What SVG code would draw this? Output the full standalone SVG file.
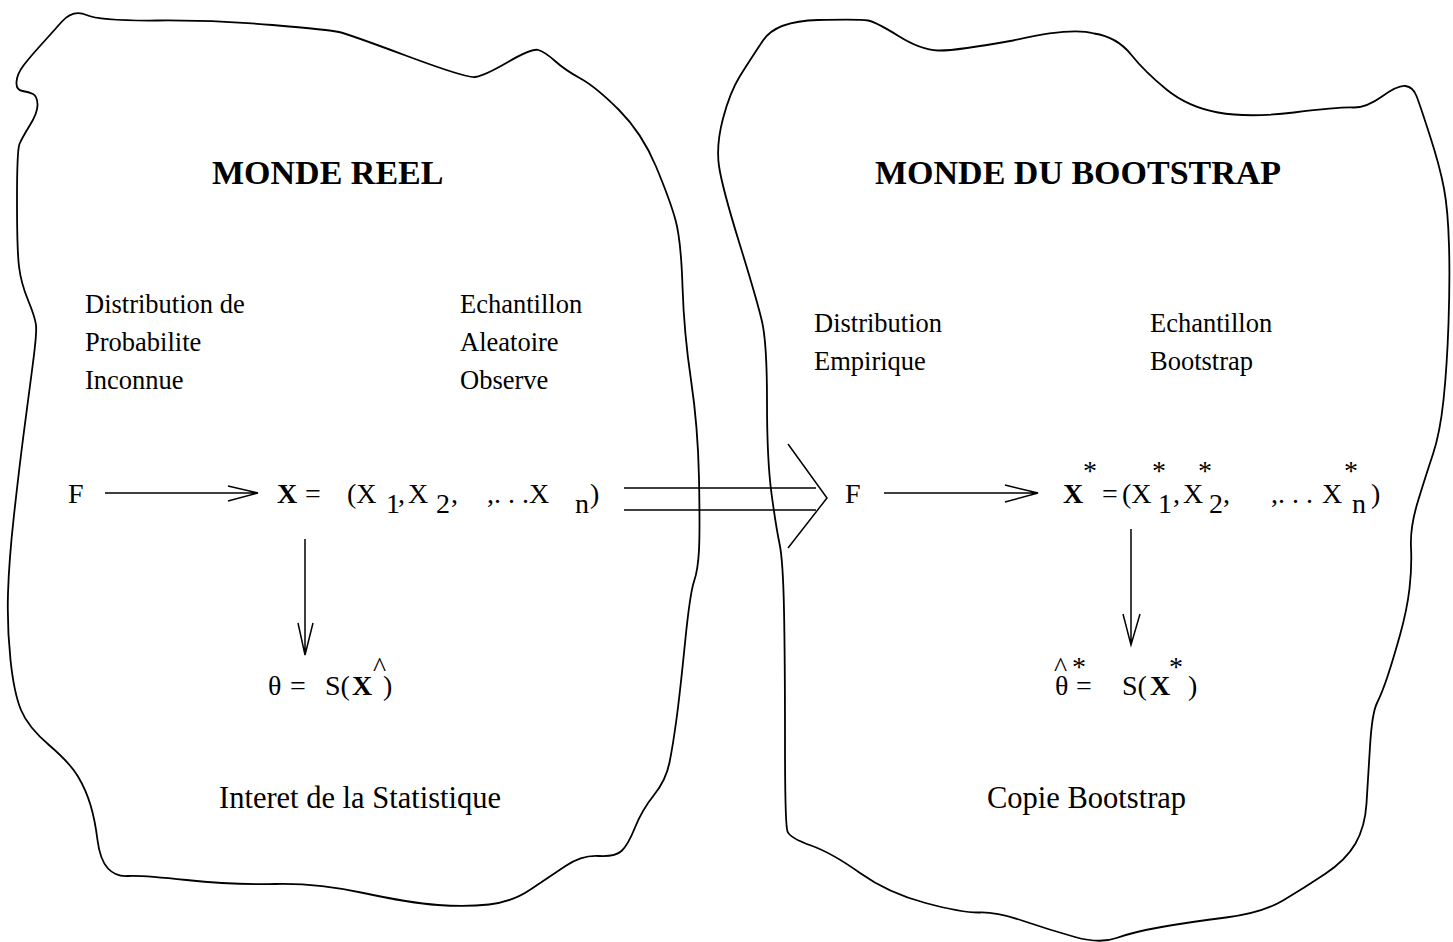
<svg xmlns="http://www.w3.org/2000/svg" width="1453" height="942" viewBox="0 0 1453 942">
<style>
.blob{fill:none;stroke:#000;stroke-width:1.8;stroke-linejoin:round}
.ln{fill:none;stroke:#000;stroke-width:1.5;stroke-linejoin:miter}
text{font-family:"Liberation Serif","Times New Roman",serif;fill:#000}
.h{font-size:34px;font-weight:bold}
.l{font-size:26.5px}
.f{font-size:28px}
.bt{font-size:30.5px}
.b{font-weight:bold}
</style>
<rect width="1453" height="942" fill="#fff"/>
<g id="monde-reel">
<path class="blob" d="M61.5,22 Q73,9 86.5,15 Q100,21 157.5,20.5 Q215,20 272.5,25 Q330,30 339,32 Q348,34 407,56 Q466,78 475,77 Q484,76 508,62 Q532,48 538.5,50 Q545,52 555,61 Q565,70 580.5,78.5 Q596,87 619,110 Q642,133 656,166.5 Q670,200 675.5,220 Q681,240 682.5,286.5 Q684,333 691,380 Q698,427 699,478.5 Q700,530 699,550 Q698,570 694,581.5 Q690,593 685,643 Q680,693 676.5,719 Q673,745 669.5,762.5 Q666,780 654,795 Q642,810 635,827.5 Q628,845 621.5,851 Q615,857 598.5,856 Q582,855 565.5,866 Q549,877 530.5,889.5 Q512,902 489,904.5 Q466,907 438,905 Q410,903 363.5,893 Q317,883 275,884 Q233,885 186.5,880 Q140,875 128,876 Q116,877 108,868.5 Q100,860 97.5,840 Q95,820 90.5,805 Q86,790 78,776.5 Q70,763 49,745 Q28,727 21,710 Q14,693 10.5,660 Q7,627 8,593.5 Q9,560 14,515 Q19,470 23.5,435 Q28,400 32.5,366.5 Q37,333 36,325 Q35,317 28,300 Q21,283 19,266.5 Q17,250 17,200 Q17,150 19.5,144 Q22,138 30,125 Q38,112 37.5,104 Q37,96 33,94 Q29,92 22.5,91 Q16,90 16.5,82 Q17,74 23.5,65.5 Q30,57 40,46 Q50,35 61.5,22 Z"/>
<text class="h" x="212" y="184">MONDE REEL</text>
</g>
<g id="monde-bootstrap">
<path class="blob" d="M763,40.5 Q776,21 818,20 Q860,19 868,20.5 Q876,22 898.5,36 Q921,50 938,50.5 Q955,51 1013,40.5 Q1071,27 1094,33.5 Q1117,37 1131,54.5 Q1145,72 1166.5,89.5 Q1188,107 1218,112.5 Q1248,118 1294,112.5 Q1340,107 1353,107.5 Q1366,108 1382,96.5 Q1398,85 1405.5,86 Q1413,87 1416.5,96 Q1420,105 1430,136 Q1440,167 1444,188.5 Q1448,210 1449,245 Q1450,280 1448.5,323.5 Q1447,367 1443.5,400 Q1440,433 1433,454 Q1426,475 1418,501 Q1410,527 1411,547 Q1412,567 1409.5,588.5 Q1407,610 1400,635 Q1393,660 1387.5,676.5 Q1382,693 1377,703 Q1372,713 1370,746.5 Q1368,780 1366.5,803.5 Q1365,827 1355.5,843.5 Q1346,860 1325,874 Q1304,888 1283,900.5 Q1262,913 1226,917.5 Q1190,922 1161.5,927 Q1133,932 1116.5,938 Q1100,944 1075,937 Q1050,930 1023.5,921 Q997,912 980,912.5 Q963,913 925.5,903 Q888,893 860,873 Q832,853 811,845.5 Q790,838 787.5,831.5 Q785,825 785,742.5 Q785,660 784,610 Q783,560 779.5,543.5 Q776,527 771.5,493.5 Q767,460 767,401.5 Q767,343 762,321.5 Q757,300 739.5,243.5 Q722,187 719,166 Q716,145 723,118.5 Q730,92 740,76 Q750,60 763,40.5 Z"/>
<text class="h" x="875" y="184">MONDE DU BOOTSTRAP</text>
</g>
<g id="label-distribution-inconnue">
<text class="l" x="85" y="313">Distribution de</text>
<text class="l" x="85" y="351">Probabilite</text>
<text class="l" x="85" y="389">Inconnue</text>
</g>
<g id="label-echantillon-observe">
<text class="l" x="460" y="313">Echantillon</text>
<text class="l" x="460" y="351">Aleatoire</text>
<text class="l" x="460" y="389">Observe</text>
</g>
<g id="label-distribution-empirique">
<text class="l" x="814" y="332">Distribution</text>
<text class="l" x="814" y="370">Empirique</text>
</g>
<g id="label-echantillon-bootstrap">
<text class="l" x="1150" y="332">Echantillon</text>
<text class="l" x="1150" y="370">Bootstrap</text>
</g>
<g id="node-F-left"><text class="f" x="68" y="503">F</text></g>
<g id="node-X-left">
<text class="f b" x="277" y="503">X</text>
<text class="f" x="305" y="503">=</text>
<text class="f" x="347" y="503">(X</text>
<text class="f" x="386" y="513">1</text>
<text class="f" x="398" y="503">,</text>
<text class="f" x="408" y="503">X</text>
<text class="f" x="436" y="513">2</text>
<text class="f" x="451" y="503">,</text>
<text class="f" x="487" y="503">,. . .</text>
<text class="f" x="529" y="503">X</text>
<text class="f" x="575" y="513">n</text>
<text class="f" x="590" y="503">)</text>
</g>
<g id="node-theta-left">
<text class="f" x="268" y="695">θ</text>
<text class="f" x="290" y="695">=</text>
<text class="f" x="325" y="695">S(</text>
<text class="f b" x="352" y="695">X</text>
<text class="f" x="373" y="676">^</text>
<text class="f" x="383" y="695">)</text>
</g>
<g id="label-interet">
<text class="bt" x="219" y="808">Interet de la Statistique</text>
</g>
<g id="node-F-right"><text class="f" x="845" y="503">F</text></g>
<g id="node-X-right">
<text class="f b" x="1063" y="503">X</text>
<text class="f" x="1083" y="480">*</text>
<text class="f" x="1102" y="503">=</text>
<text class="f" x="1122" y="503">(X</text>
<text class="f" x="1152" y="480">*</text>
<text class="f" x="1158" y="513">1</text>
<text class="f" x="1173" y="503">,</text>
<text class="f" x="1183" y="503">X</text>
<text class="f" x="1198" y="480">*</text>
<text class="f" x="1209" y="513">2</text>
<text class="f" x="1223" y="503">,</text>
<text class="f" x="1271" y="503">,. . .</text>
<text class="f" x="1322" y="503">X</text>
<text class="f" x="1344" y="480">*</text>
<text class="f" x="1352" y="513">n</text>
<text class="f" x="1371" y="503">)</text>
</g>
<g id="node-theta-right">
<text class="f" x="1054" y="676">^</text>
<text class="f" x="1072" y="676">*</text>
<text class="f" x="1055" y="695">θ</text>
<text class="f" x="1076" y="695">=</text>
<text class="f" x="1122" y="695">S(</text>
<text class="f b" x="1150" y="695">X</text>
<text class="f" x="1169" y="676">*</text>
<text class="f" x="1188" y="695">)</text>
</g>
<g id="label-copie">
<text class="bt" x="987" y="808">Copie Bootstrap</text>
</g>
<g id="connectors">
<path class="ln" d="M105,493 H258 M228,486 L258,493 L228,501"/>
<path class="ln" d="M305,539 V655 M298,623 L305,655 L313,623"/>
<path class="ln" d="M884,493 H1038 M1005,485 L1038,493 L1005,502"/>
<path class="ln" d="M1131,529 V645 M1123,614 L1131,645 L1140,614"/>
<path class="ln" d="M624,488 H816 M624,510 H816 M788,444 L827,498 L788,548"/>
</g>
</svg>
